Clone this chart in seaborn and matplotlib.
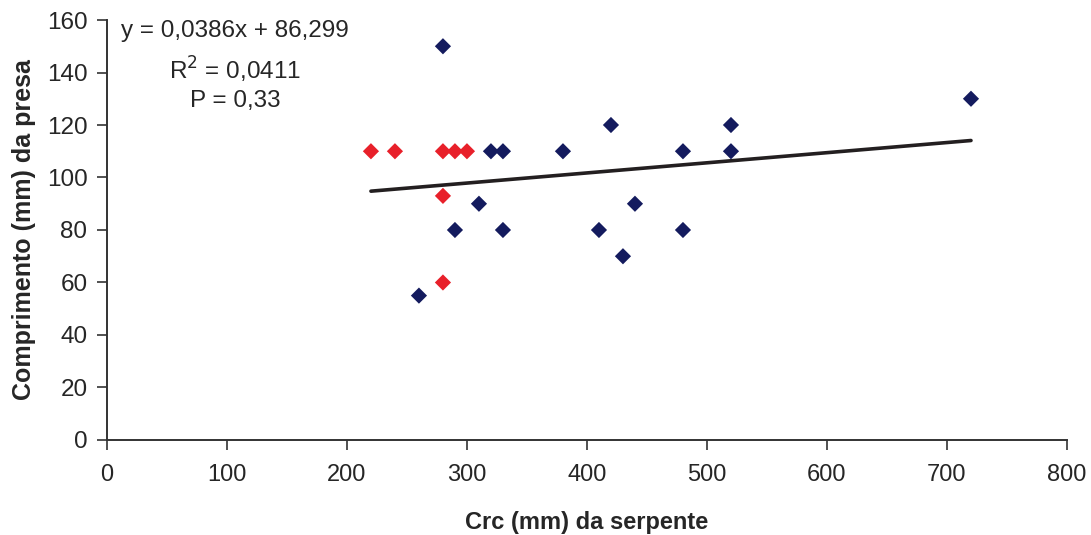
import numpy as np
import pandas as pd
import matplotlib
matplotlib.use('Agg')
import matplotlib.pyplot as plt
import seaborn as sns

# data
blue_x = [280, 720, 420, 520, 320, 330, 380, 480, 520, 310, 440, 290, 330, 410, 480, 430, 260]
blue_y = [150, 130, 120, 120, 110, 110, 110, 110, 110, 90, 90, 80, 80, 80, 80, 70, 55]
red_x = [220, 240, 280, 290, 300, 280, 280]
red_y = [110, 110, 110, 110, 110, 93, 60]

# trend line as printed on the chart
slope = 0.0386
intercept = 86.299
eq_lines = ["y = 0,0386x + 86,299", "R$^2$ = 0,0411", "P = 0,33"]
eq_y = [156, 141, 129]

sns.set_style('white')
plt.rcParams['font.family'] = ['Liberation Sans', 'DejaVu Sans']

df = pd.DataFrame({
    'x': red_x + blue_x,
    'y': red_y + blue_y,
    'grupo': ['red'] * len(red_x) + ['blue'] * len(blue_x),
})

fig = plt.figure(figsize=(10.91, 5.35), dpi=100)
ax = fig.add_axes([0.098, 0.1776, 0.880, 0.785])

sns.scatterplot(data=df, x='x', y='y', hue='grupo', marker='D', s=68,
                palette={'red': '#E8202A', 'blue': '#141B5E'},
                linewidth=0, legend=False, ax=ax, zorder=3)

all_x = np.array(red_x + blue_x)
lx = np.array([all_x.min(), all_x.max()])
sns.lineplot(x=lx, y=slope * lx + intercept, color='#231F20', linewidth=2.6, ax=ax, zorder=2)

ax.set_xlim(0, 800)
ax.set_ylim(0, 160)
ax.set_xticks(range(0, 801, 100))
ax.set_yticks(range(0, 161, 20))

for s in ['top', 'right']:
    ax.spines[s].set_visible(False)
for s in ['left', 'bottom']:
    ax.spines[s].set_color('#333333')
    ax.spines[s].set_linewidth(1.4)

ax.tick_params(axis='y', direction='out', length=7, width=1.2, pad=7, labelsize=17.5, color='#333333', left=True)
ax.tick_params(axis='x', direction='out', length=7, width=1.2, pad=10, labelsize=17, color='#333333', bottom=True)

ax.set_ylabel('Comprimento (mm) da presa', fontsize=18, fontweight='bold', labelpad=8)
ax.set_xlabel('Crc (mm) da serpente', fontsize=17, fontweight='bold', labelpad=18)

for line, yy in zip(eq_lines, eq_y):
    ax.text(107, yy, line, fontsize=17.5, ha='center', va='center')

fig.savefig('out.png', dpi=100)
